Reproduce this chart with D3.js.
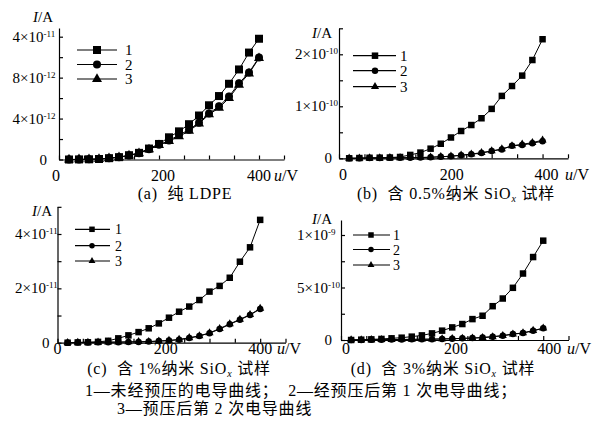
<!DOCTYPE html>
<html>
<head>
<meta charset="utf-8">
<script src="https://cdn.jsdelivr.net/npm/d3@7"></script>
<style>
    body { margin: 0; background: #fff; }
    svg text {
        font-family: "Liberation Serif", "Times New Roman", "Noto Sans CJK SC", serif;
        fill: #000;
        white-space: pre;
    }
    .note { letter-spacing: 0.8px; }
</style>
</head>
<body>
<svg id="chart" width="598" height="421"></svg>
<script>
(function() {"use strict";

    // 전압 (V)
    var voltage = [20, 40, 60, 80, 100, 120, 140, 160, 180, 200,
                   220, 240, 260, 280, 300, 320, 340, 360, 380, 400];

    // (a) 纯 LDPE, ×1e-12 A
    var pureS1 = [0, 0.01, 0.02, 0.05, 0.13, 0.23, 0.42, 0.65, 1.07, 1.52,
                  2.17, 2.75, 3.45, 4.3, 5.3, 6.2, 7.4, 8.8, 10.45, 11.8];
    var pureS2 = [0, 0.01, 0.02, 0.05, 0.12, 0.22, 0.4, 0.62, 1.0, 1.45,
                  1.85, 2.4, 2.9, 3.6, 4.5, 5.2, 6.15, 7.45, 8.5, 9.97];
    var pureS3 = [0, 0.01, 0.02, 0.05, 0.12, 0.21, 0.38, 0.6, 0.98, 1.4,
                  1.8, 2.25, 2.8, 3.5, 4.4, 5.05, 6.0, 7.3, 8.4, 9.9];

    // (b) 0.5% SiOx, ×1e-10 A
    var half1 = [0, 0.005, 0.01, 0.012, 0.015, 0.025, 0.065, 0.11, 0.185, 0.28,
                 0.4, 0.525, 0.64, 0.77, 0.95, 1.2, 1.39, 1.59, 1.89, 2.29];
    var half2 = [0, 0, 0.005, 0.005, 0.01, 0.01, 0.012, 0.015, 0.02, 0.03,
                 0.04, 0.058, 0.077, 0.1, 0.14, 0.17, 0.24, 0.255, 0.29, 0.33];
    var half3 = [0, 0, 0.005, 0.005, 0.01, 0.01, 0.012, 0.015, 0.02, 0.03,
                 0.04, 0.06, 0.08, 0.11, 0.14, 0.18, 0.24, 0.27, 0.3, 0.35];

    // (c) 1% SiOx, ×1e-11 A
    var one1 = [0, 0.01, 0.015, 0.03, 0.07, 0.16, 0.27, 0.39, 0.53, 0.71,
                0.92, 1.14, 1.33, 1.57, 1.88, 2.09, 2.39, 2.98, 3.51, 4.52];
    var one2 = [0, 0.01, 0.01, 0.015, 0.02, 0.02, 0.03, 0.03, 0.04, 0.06,
                0.08, 0.11, 0.17, 0.25, 0.35, 0.5, 0.68, 0.84, 1.02, 1.24];
    var one3 = [0, 0.01, 0.01, 0.015, 0.02, 0.02, 0.03, 0.035, 0.04, 0.06,
                0.08, 0.12, 0.18, 0.25, 0.36, 0.52, 0.69, 0.86, 1.03, 1.26];

    // (d) 3% SiOx, ×1e-10 A
    var three1 = [0, 0.03, 0.06, 0.1, 0.16, 0.22, 0.32, 0.44, 0.63, 0.89,
                  1.2, 1.52, 1.99, 2.31, 3.22, 3.95, 4.97, 6.33, 7.9, 9.46];
    var three2 = [0, 0.01, 0.02, 0.03, 0.04, 0.05, 0.06, 0.07, 0.08, 0.1,
                  0.12, 0.16, 0.18, 0.25, 0.32, 0.41, 0.57, 0.66, 0.88, 1.11];
    var three3 = [0, 0.01, 0.02, 0.03, 0.04, 0.05, 0.06, 0.07, 0.08, 0.1,
                  0.12, 0.15, 0.18, 0.22, 0.3, 0.42, 0.55, 0.68, 0.9, 1.12];

    // 눈금
    var xTicks      = [0, 50, 100, 150, 200, 250, 300, 350, 400, 450];
    var xLabels     = [0, 200, 400];
    var yMajorA = [0, 4, 8, 12],  yMinorA = [2, 6, 10];
    var yLabelA = ["0", "4×10^-12", "8×10^-12", "4×10^-11"];
    var yMajorB = [0, 1, 2],      yMinorB = [0.5, 1.5, 2.5];
    var yLabelB = ["0", "1×10^-10", "2×10^-10"];
    var yMajorC = [0, 2, 4],      yMinorC = [1, 3, 5];
    var yLabelC = ["0", "2×10^-11", "4×10^-11"];
    var yMajorD = [0, 5, 10],     yMinorD = [2.5, 7.5];
    var yLabelD = ["0", "5×10^-10", "1×10^-9"];

    var seriesNames = ["1", "2", "3"];
    var captions = ["(a)  纯 LDPE", "(b)  含 0.5%纳米 SiO|x| 试样",
                    "(c)  含 1%纳米 SiO|x| 试样", "(d)  含 3%纳米 SiO|x| 试样"];
    var noteLine1 = "1—未经预压的电导曲线；  2—经预压后第 1 次电导曲线；";
    var noteLine2 = "3—预压后第 2 次电导曲线";

    var svg = d3.select("#chart");

    // panel 배치 (layout only)
    var panels = [
        { series: [pureS1, pureS2, pureS3], major: yMajorA, minor: yMinorA, labels: yLabelA,
          xRange: [59, 284], y0: 159.5, ref: [12, 36.7], top: 28,
          tickLabelX: 12.5, zeroGap: 12, xLabelY: 181, xLabelDx: [-3, 4, 0], unitX: 274,
          yTitle: [33, 22], caption: [185, 199], msize: 8,
          legend: { x1: 77, x2: 117, mx: 97, rows: [50, 64.5, 79], tx: 125, ms: 8, fs: 15 } },
        { series: [half1, half2, half3], major: yMajorB, minor: yMinorB, labels: yLabelB,
          xRange: [339, 568], y0: 158.3, ref: [2, 54.3], top: 28.3,
          tickLabelX: 295, zeroGap: 7, xLabelY: 180, xLabelDx: [4, 11, 4], unitX: 565,
          yTitle: [312, 38], caption: [456, 199], msize: 6.5,
          legend: { x1: 353, x2: 396, mx: 375, rows: [55.7, 70.7, 86.7], tx: 400, ms: 6.5, fs: 15 } },
        { series: [one1, one2, one3], major: yMajorC, minor: yMinorC, labels: yLabelC,
          xRange: [57.5, 285.5], y0: 342.7, ref: [4, 234], top: 206.7,
          tickLabelX: 15, zeroGap: 8, xLabelY: 354, xLabelDx: [0, 7, 0], unitX: 277,
          yTitle: [32, 216], caption: [179, 374], msize: 6.5,
          legend: { x1: 75, x2: 110, mx: 92, rows: [229.3, 245.7, 261], tx: 115, ms: 5.5, fs: 14 } },
        { series: [three1, three2, three3], major: yMajorD, minor: yMinorD, labels: yLabelD,
          xRange: [341, 568.5], y0: 340, ref: [10, 235], top: 220,
          tickLabelX: 297, zeroGap: 9, xLabelY: 354, xLabelDx: [5, 14, 6], unitX: 567,
          yTitle: [312, 224], caption: [443, 374], msize: 6.5,
          legend: { x1: 353, x2: 390, mx: 371, rows: [235, 249.5, 265], tx: 393, ms: 5.5, fs: 14 } }
    ];

    function symbolPath(kind, s) {
        var type = [d3.symbolSquare, d3.symbolCircle, d3.symbolTriangle][kind];
        var area = [s * s, Math.PI * s * s / 4, Math.sqrt(3) / 4 * (s * 1.25) * (s * 1.25)][kind];
        return d3.symbol().type(type).size(area)();
    }

    // "4×10^-12" -> 본문 + 윗첨자
    function addPowerText(sel, str) {
        var parts = str.split("^");
        sel.append("tspan").text(parts[0]);
        if (parts.length > 1) {
            sel.append("tspan").attr("font-size", 9).attr("dy", -5).text(parts[1]);
        }
    }

    function drawPanel(p, idx) {
        var g = svg.append("g");

        var x = d3.scaleLinear().domain([0, 450]).range(p.xRange);
        var y = d3.scaleLinear().domain([0, p.ref[0]]).range([p.y0, p.ref[1]]);
        y.domain([0, y.invert(p.top)]).range([p.y0, p.top]);

        // x 축 (눈금 안쪽)
        g.append("g")
            .attr("transform", "translate(0," + p.y0 + ")")
            .call(d3.axisBottom(x).tickValues(xTicks).tickSizeInner(-4).tickSizeOuter(0).tickFormat(""));

        // y 축
        g.append("g")
            .attr("transform", "translate(" + p.xRange[0] + ",0)")
            .call(d3.axisLeft(y).tickValues(p.major.concat(p.minor)).tickSizeInner(-4)
                .tickSizeOuter(0).tickFormat(""));

        g.selectAll(".domain, .tick line")
            .attr("stroke", "#000").attr("stroke-width", 1.2);

        // y 눈금 라벨
        p.major.forEach(function(v, i) {
            var lab = p.labels[i];
            var t = g.append("text").attr("font-size", 15).attr("y", y(v) + 5);
            if (lab.indexOf("^") < 0) {
                t.attr("x", p.xRange[0] - p.zeroGap).attr("text-anchor", "end").text(lab);
            } else {
                t.attr("x", p.tickLabelX);
                addPowerText(t, lab);
            }
        });

        // x 눈금 라벨
        xLabels.forEach(function(v, i) {
            g.append("text").attr("font-size", 16)
                .attr("x", x(v) + p.xLabelDx[i]).attr("y", p.xLabelY)
                .attr("text-anchor", "middle").text(v);
        });

        // u/V
        var ux = g.append("text").attr("font-size", 16).attr("x", p.unitX).attr("y", p.xLabelY);
        ux.append("tspan").attr("font-style", "italic").text("u");
        ux.append("tspan").text("/V");

        // I/A
        var iy = g.append("text").attr("font-size", 15).attr("x", p.yTitle[0]).attr("y", p.yTitle[1]);
        iy.append("tspan").attr("font-style", "italic").text("I");
        iy.append("tspan").text("/A");

        // 곡선 + 마커
        var line = d3.line()
            .x(function(d, i) { return x(voltage[i]); })
            .y(function(d) { return y(d); });

        p.series.forEach(function(vals, k) {
            g.append("path").datum(vals)
                .attr("d", line)
                .attr("fill", "none").attr("stroke", "#000").attr("stroke-width", 1);
            g.selectAll(".m" + k).data(vals).enter()
                .append("path")
                .attr("class", "m" + k)
                .attr("d", symbolPath(k, p.msize))
                .attr("transform", function(d, i) {
                    return "translate(" + x(voltage[i]) + "," + y(d) + ")";
                })
                .attr("fill", "#000");
        });

        // 범례
        var L = p.legend;
        seriesNames.forEach(function(name, k) {
            var ry = L.rows[k];
            g.append("line").attr("x1", L.x1).attr("x2", L.x2).attr("y1", ry).attr("y2", ry)
                .attr("stroke", "#000").attr("stroke-width", 1.2);
            g.append("path").attr("d", symbolPath(k, L.ms))
                .attr("transform", "translate(" + L.mx + "," + ry + ")").attr("fill", "#000");
            g.append("text").attr("font-size", L.fs).attr("x", L.tx).attr("y", ry + 5).text(name);
        });

        // 캡션
        var parts = captions[idx].split("|");
        var c = g.append("text").attr("class", "note").attr("font-size", 16)
            .attr("x", p.caption[0]).attr("y", p.caption[1]).attr("text-anchor", "middle");
        c.append("tspan").text(parts[0]);
        if (parts.length > 1) {
            c.append("tspan").attr("font-size", 10).attr("font-style", "italic").attr("dy", 3).text(parts[1]);
            c.append("tspan").attr("dy", -3).text(parts[2]);
        }
    }

    panels.forEach(drawPanel);

    svg.append("text").attr("class", "note").attr("font-size", 16).attr("x", 85).attr("y", 396).text(noteLine1);
    svg.append("text").attr("class", "note").attr("font-size", 16).attr("x", 117).attr("y", 414).text(noteLine2);

})();
</script>
</body>
</html>
